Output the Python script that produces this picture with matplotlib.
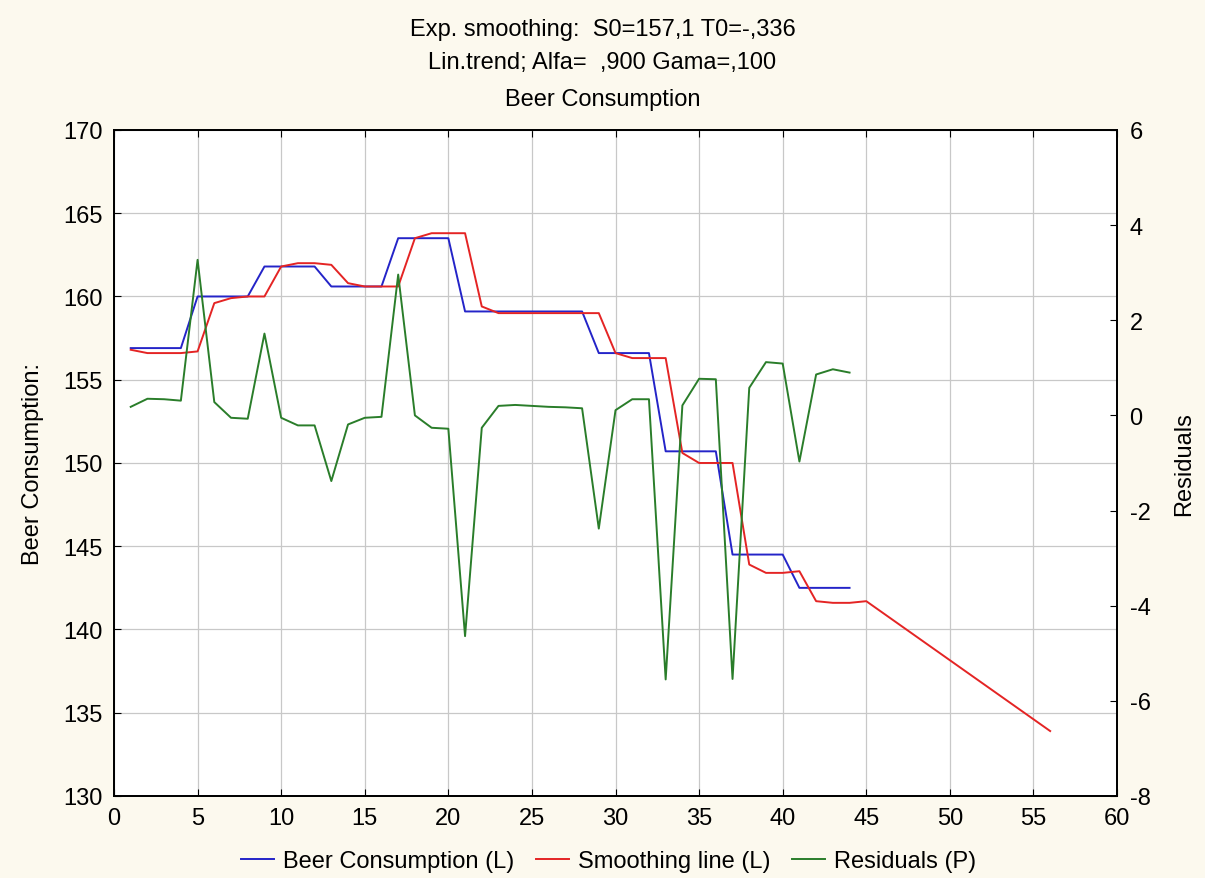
import numpy as np
import matplotlib.pyplot as plt

plt.rcParams['font.family'] = ['Liberation Sans', 'DejaVu Sans']
plt.rcParams['axes.unicode_minus'] = False

### data
beer_x = list(range(1, 45))
beer = [156.9, 156.9, 156.9, 156.9, 160.0, 160.0, 160.0, 160.0, 161.8, 161.8,
        161.8, 161.8, 160.6, 160.6, 160.6, 160.6, 163.5, 163.5, 163.5, 163.5,
        159.1, 159.1, 159.1, 159.1, 159.1, 159.1, 159.1, 159.1, 156.6, 156.6,
        156.6, 156.6, 150.7, 150.7, 150.7, 150.7, 144.5, 144.5, 144.5, 144.5,
        142.5, 142.5, 142.5, 142.5]

smooth_x = list(range(1, 46)) + [56]
smooth = [156.8, 156.6, 156.6, 156.6, 156.7, 159.6, 159.9, 160.0, 160.0, 161.8,
          162.0, 162.0, 161.9, 160.8, 160.6, 160.6, 160.6, 163.5, 163.8, 163.8,
          163.8, 159.4, 159.0, 159.0, 159.0, 159.0, 159.0, 159.0, 159.0, 156.6,
          156.3, 156.3, 156.3, 150.6, 150.0, 150.0, 150.0, 143.9, 143.4, 143.4,
          143.5, 141.7, 141.6, 141.6, 141.7, 133.9]

resid_x = list(range(1, 45))
resid = [0.18, 0.35, 0.34, 0.31, 3.27, 0.28, -0.05, -0.07, 1.72, -0.05,
         -0.21, -0.21, -1.38, -0.19, -0.05, -0.03, 2.96, 0.0, -0.26, -0.28,
         -4.64, -0.26, 0.20, 0.22, 0.20, 0.18, 0.17, 0.15, -2.38, 0.11,
         0.34, 0.34, -5.55, 0.21, 0.77, 0.76, -5.54, 0.58, 1.12, 1.09,
         -0.97, 0.86, 0.97, 0.90]

title_lines = ['Exp. smoothing:  S0=157,1 T0=-,336',
               'Lin.trend; Alfa=  ,900 Gama=,100',
               'Beer Consumption']

bg = '#fcf9ee'
fs = 17
fig = plt.figure(figsize=(12.05, 8.79), dpi=100, facecolor=bg)
ax1 = fig.add_axes([0.0946, 0.0933, 0.8324, 0.7577])
ax1.set_facecolor('white')

l1, = ax1.plot(beer_x, beer, color='#2424c8', lw=1.4, label='Beer Consumption (L)')
l2, = ax1.plot(smooth_x, smooth, color='#e42424', lw=1.4, label='Smoothing line (L)')
ax1.set_xlim(0, 60)
ax1.set_ylim(130, 170)
ax1.set_xticks(np.arange(0, 61, 5))
ax1.set_yticks(np.arange(130, 171, 5))
ax1.grid(True, color='#c8c8c8', lw=0.9)
ax1.set_axisbelow(True)
ax1.tick_params(direction='in', length=5, labelsize=fs, top=True, pad=8)
ax1.set_ylabel('Beer Consumption:', fontsize=fs, labelpad=14)

ax2 = ax1.twinx()
l3, = ax2.plot(resid_x, resid, color='#2a7d2a', lw=1.4, label='Residuals (P)')
ax2.set_ylim(-8, 6)
ax2.set_yticks(np.arange(-8, 7, 2))
ax2.tick_params(direction='in', length=5, labelsize=fs, pad=9)
ax2.set_ylabel('Residuals', fontsize=fs, labelpad=16)

for a in (ax1, ax2):
    for s in a.spines.values():
        s.set_color('black')
        s.set_linewidth(1.3)

fig.text(0.5, 0.966, title_lines[0], ha='center', va='center', fontsize=fs)
fig.text(0.5, 0.928, title_lines[1], ha='center', va='center', fontsize=fs)
fig.text(0.5, 0.886, title_lines[2], ha='center', va='center', fontsize=fs)

fig.legend(handles=[l1, l2, l3], loc='center', bbox_to_anchor=(0.505, 0.019),
           ncol=3, frameon=False, fontsize=fs, handlelength=1.4,
           columnspacing=0.9, handletextpad=0.4)

fig.savefig('out.png', dpi=100, facecolor=bg)
